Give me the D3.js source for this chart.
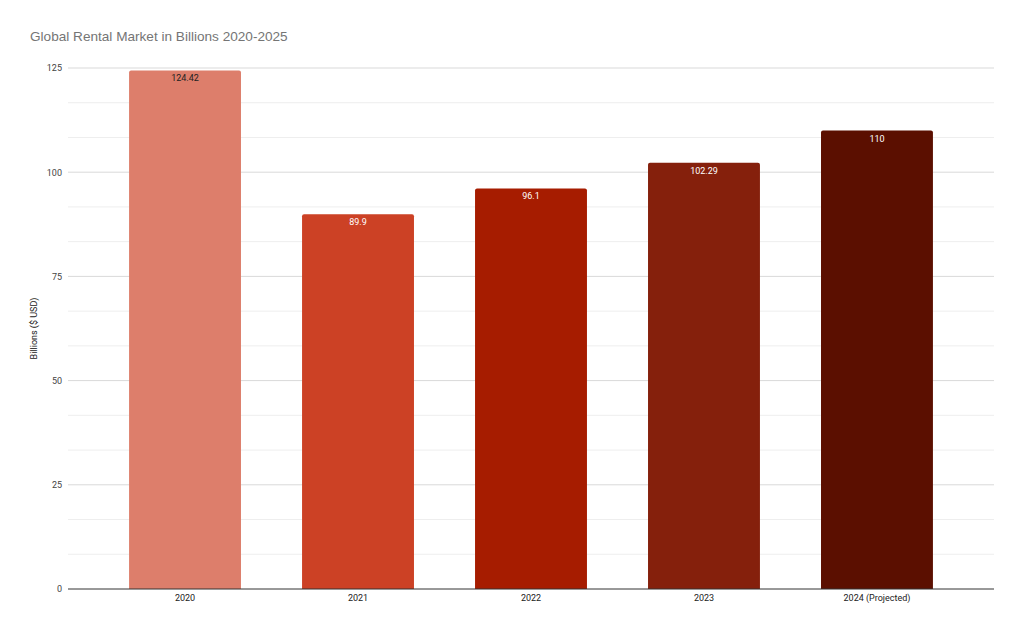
<!DOCTYPE html>
<html><head><meta charset="utf-8">
<script src="https://cdn.jsdelivr.net/npm/d3@7"></script>
<style>body{margin:0;background:#fff}svg{display:block;font-family:Roboto,Arial,sans-serif}</style>
</head><body>
<svg id="c" width="1024" height="632"></svg>
<script>
const categories = ["2020","2021","2022","2023","2024 (Projected)"];
const values = [124.42, 89.9, 96.1, 102.29, 110];
const labels = ["124.42","89.9","96.1","102.29","110"];
const colors = ["#dd7e6b","#cc4125","#a61c00","#85200c","#5b0f00"];
const labelColors = ["#222222","#ffffff","#ffffff","#ffffff","#ffffff"];
const yTicks = [0,25,50,75,100,125];
const yMinor = [8.333,16.667,33.333,41.667,58.333,66.667,83.333,91.667,108.333,116.667];

const svg = d3.select("#c");
const L=68,R=994,T=68,B=589;
const x = d3.scaleBand().domain(categories).range([L,R]).paddingInner(0.353).paddingOuter(0.353);
const y = d3.scaleLinear().domain([0,125]).range([B,T]);

svg.append("text").attr("x",30).attr("y",41).attr("font-size",13.6).attr("fill","#757575")
  .attr("font-family","'Liberation Sans',Arial,sans-serif").text("Global Rental Market in Billions 2020-2025");

svg.append("g").selectAll("line").data(yMinor).join("line")
  .attr("x1",L).attr("x2",R).attr("y1",d=>y(d)).attr("y2",d=>y(d)).attr("stroke","#eeeeee");
svg.append("g").selectAll("line").data(yTicks.filter(d=>d>0)).join("line")
  .attr("x1",L).attr("x2",R).attr("y1",d=>y(d)).attr("y2",d=>y(d)).attr("stroke","#d9d9d9");

const yAxis = d3.axisLeft(y).tickValues(yTicks).tickSize(0).tickPadding(6);
const ga = svg.append("g").attr("transform",`translate(${L},0)`).call(yAxis);
ga.select(".domain").remove();
ga.selectAll("text").attr("font-size",9).attr("fill","#444").attr("font-family","Roboto,Arial,sans-serif");

svg.append("text").attr("transform",`translate(37,${(T+B)/2}) rotate(-90)`).attr("text-anchor","middle")
  .attr("font-size",9).attr("fill","#222").text("Billions ($ USD)");

const bars = svg.append("g");
categories.forEach((c,i)=>{
  const x0=x(c), w=x.bandwidth(), y0=y(values[i]), r=2;
  bars.append("path").attr("fill",colors[i])
    .attr("d",`M${x0},${B}V${y0+r}Q${x0},${y0} ${x0+r},${y0}H${x0+w-r}Q${x0+w},${y0} ${x0+w},${y0+r}V${B}Z`);
  bars.append("text").attr("x",x0+w/2).attr("y",y0+11).attr("text-anchor","middle")
    .attr("font-size",9).attr("fill",labelColors[i]).text(labels[i]);
});

svg.append("line").attr("x1",L).attr("x2",R).attr("y1",B).attr("y2",B).attr("stroke","#333");

const xAxis = d3.axisBottom(x).tickSize(0).tickPadding(6);
const gx = svg.append("g").attr("transform",`translate(0,${B})`).call(xAxis);
gx.select(".domain").remove();
gx.selectAll("text").attr("font-size",9).attr("fill","#222").attr("font-family","Roboto,Arial,sans-serif");
</script>
</body></html>
